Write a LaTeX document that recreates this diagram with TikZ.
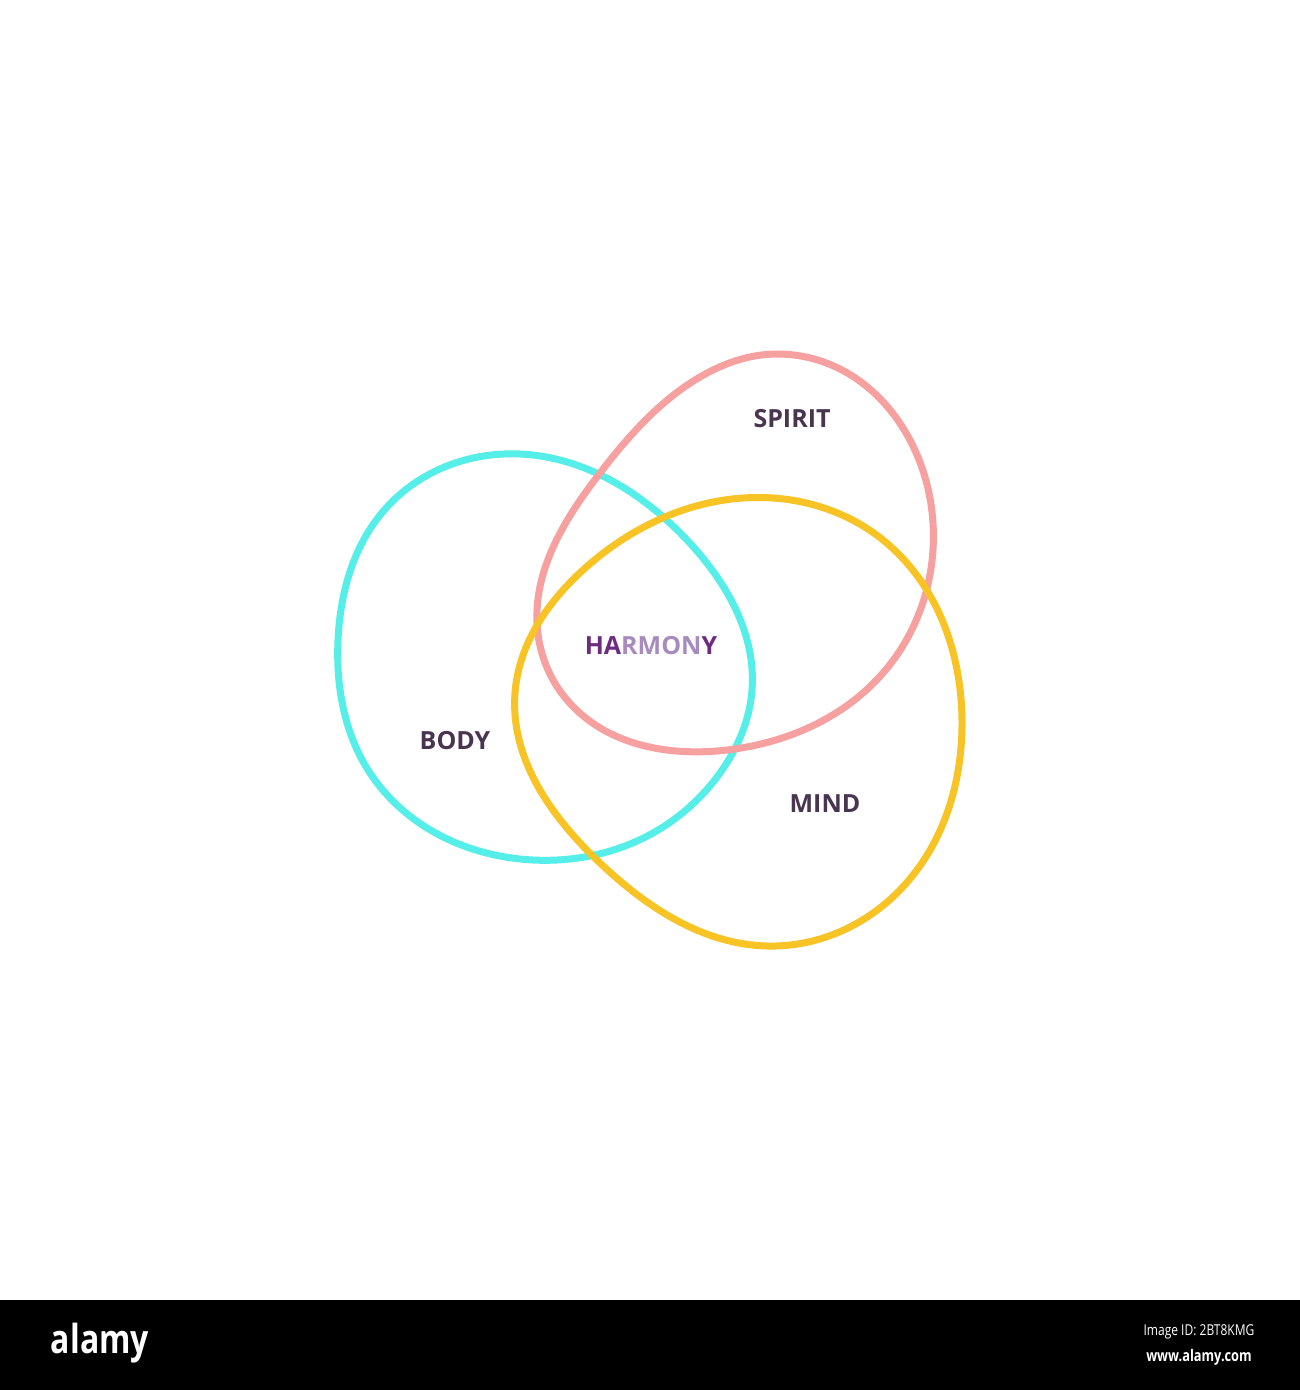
\documentclass[tikz,border=0pt]{standalone}
\usepackage{fontspec}
\usetikzlibrary{hobby}
\setmainfont{Open Sans}
\begin{document}
\begin{tikzpicture}[x=1pt,y=-1pt,
  blob/.style={line width=7pt,use Hobby shortcut,closed=true},
  lbl/.style={font=\fontsize{25}{28}\selectfont\bfseries,text=labtxt,inner sep=0pt}]
\definecolor{labtxt}{HTML}{4A3550}
\definecolor{harm}{HTML}{6E2C80}
\definecolor{harml}{HTML}{A88BBE}
\definecolor{cyanb}{HTML}{55EEE8}
\definecolor{pinkb}{HTML}{F6A0A0}
\definecolor{yelb}{HTML}{F8C325}
\fill[white] (0,0) rectangle (1300,1300);
\fill[black] (0,1300) rectangle (1300,1390);
\useasboundingbox (0,0) rectangle (1300,1390);
% cyan (body)
\draw[blob,cyanb] (520,454) .. (687,540) .. (752,690) .. (720,773) .. (653,833) .. (533,860) .. (370,773) .. (338,640) .. (387,507);
% pink (spirit)
\draw[blob,pinkb] (777,354) .. (933,523) .. (883,673) .. (727,750) .. (567,700) .. (537,623) .. (600,473) .. (695,380);
% yellow (mind)
\draw[blob,yelb] (773,498) .. (883,540) .. (962,720) .. (900,890) .. (767,946) .. (600,863) .. (515,693) .. (583,570);
\node[lbl] (spirit) at (792,419) {SPIRIT};
\node[lbl] (body) at (455,741) {BODY};
\node[lbl] (mind) at (825,804) {MIND};
\node[lbl,text=harm] (harmony) at (651,646) {HA\textcolor{harml}{RMON}Y};
\node[font=\fontsize{40}{44}\selectfont\bfseries,text=white,inner sep=0pt,xscale=0.8] (logo) at (100,1343) {alamy};
\node[font=\fontsize{15}{18}\selectfont,text=white,inner sep=0pt,xscale=0.8] (imgid) at (1199,1332) {Image ID: 2BT8KMG};
\node[font=\fontsize{16}{18}\selectfont\bfseries,text=white,inner sep=0pt,xscale=0.8] (www) at (1199,1357) {www.alamy.com};
\end{tikzpicture}
\end{document}
